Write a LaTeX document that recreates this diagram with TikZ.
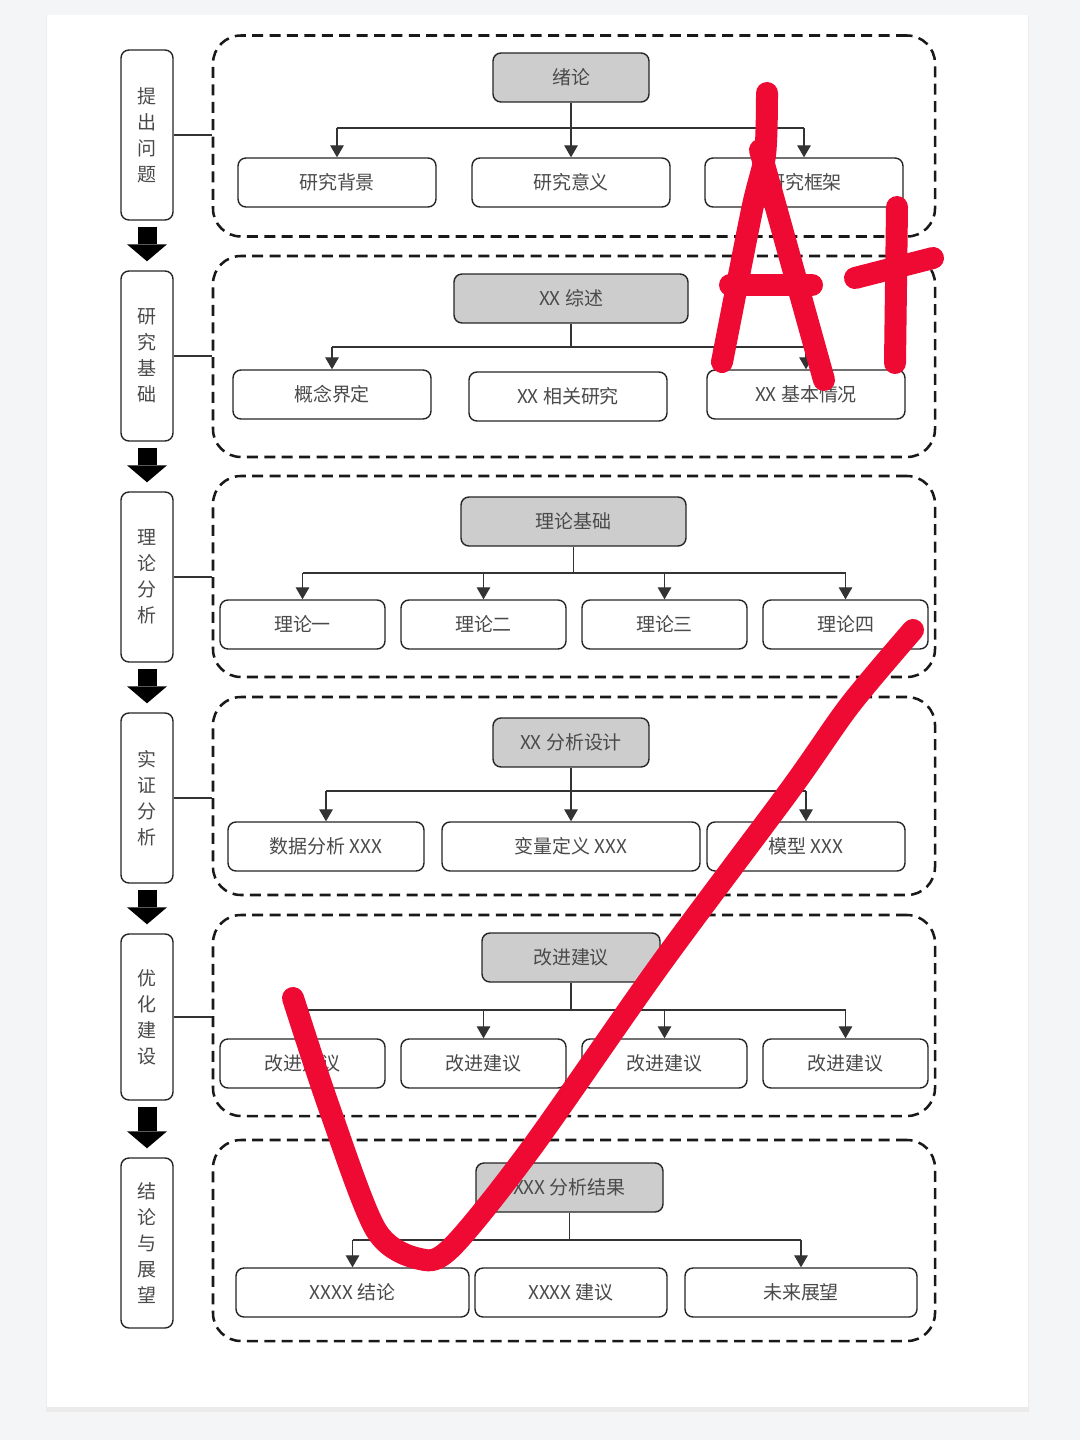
\documentclass[tikz,border=0pt]{standalone}
\usepackage{fontspec}
\usetikzlibrary{arrows.meta,calc}
\newfontfamily\cjk{Noto Sans CJK SC}
\definecolor{PaperBack}{HTML}{F4F5F7}
\definecolor{BoxGray}{HTML}{CDCDCD}
\definecolor{TextGray}{HTML}{4A4A4A}
\definecolor{PenRed}{HTML}{EE0A32}
\tikzset{>={Triangle[width=3.4mm,length=3mm]},
 every node/.style={font=\cjk\fontsize{13.5}{18.5}\selectfont,text=TextGray,inner sep=0pt},
 box/.style={draw=black!85,line width=1pt,rounded corners=2mm,minimum height=12.25mm,align=center},
 topbox/.style={box,fill=BoxGray},
 lab/.style={box,minimum width=13mm,minimum height=42.5mm},
 grp/.style={draw=black!90,line width=1.8pt,dash pattern=on 2.75mm off 1.6mm,
 rounded corners=7mm,minimum width=180.5mm,minimum height=50.25mm},
 link/.style={draw=black!80,line width=.8pt},
 bigarr/.style={line width=4.75mm,-{Triangle[width=10mm,length=4.25mm,line width=0pt]},
 shorten <=1.5mm,shorten >=2.25mm},
 redpen/.style={draw=PenRed,line width=5.5mm,line cap=round,line join=round}}
\begin{document}
\begin{tikzpicture}[x=.25mm,y=-.25mm]
\fill[PaperBack] (0,0) rectangle (1080,1440);
\useasboundingbox (0,0) rectangle (1080,1440);
% page
\fill[black!4] (43,19) rectangle (1032,1418);
\fill[black!8] (46,17) rectangle (1029,1412);
\fill[white] (47,15) rectangle (1028,1407);
% stage labels
\node[lab] (lab1) at (147,135) {提\\出\\问\\题};
\node[lab] (lab2) at (147,356) {研\\究\\基\\础};
\node[lab] (lab3) at (147,577) {理\\论\\分\\析};
\node[lab] (lab4) at (147,798) {实\\证\\分\\析};
\node[lab,minimum height=41.5mm] (lab5) at (147,1017) {优\\化\\建\\设};
\node[lab] (lab6) at (147,1243) {结\\论\\与\\展\\望};
\foreach \a/\b in {lab1/lab2,lab2/lab3,lab3/lab4,lab4/lab5,lab5/lab6}
 \draw[bigarr] (\a) -- (\b);
% groups
\node[grp] (grp1) at (574,136) {};
\node[grp] (grp2) at (574,356.5) {};
\node[grp] (grp3) at (574,576.5) {};
\node[grp,minimum height=49.5mm] (grp4) at (574,796) {};
\node[grp] (grp5) at (574,1015.5) {};
\node[grp] (grp6) at (574,1240.5) {};
\foreach \i in {1,...,5}
 \draw[link,line width=1.2pt] (lab\i) -- (lab\i.east-|grp\i.west);
% 1
\node[topbox,minimum width=39mm] (t1) at (571,77.5) {绪论};
\node[box,minimum width=49.5mm] (c11) at (337,182.5) {研究背景};
\node[box,minimum width=49.5mm] (c12) at (571,182.5) {研究意义};
\node[box,minimum width=49.5mm] (c13) at (804,182.5) {研究框架};
\coordinate (b1) at (0,128);
\draw[link] (t1) -- (t1|-b1);
\draw[link] (c11|-b1) -- (c13|-b1);
\foreach \c in {c11,c12,c13} \draw[link,->] (\c|-b1) -- (\c);
% 2
\node[topbox,minimum width=58.5mm] (t2) at (571,298.5) {XX 综述};
\node[box,minimum width=49.5mm] (c21) at (332,394.5) {概念界定};
\node[box,minimum width=49.5mm] (c22) at (568,396.5) {XX 相关研究};
\node[box,minimum width=49.5mm] (c23) at (806,394.5) {XX 基本情况};
\coordinate (b2) at (0,347);
\draw[link] (t2) -- (t2|-b2);
\draw[link] (c21|-b2) -- (c23|-b2);
\foreach \c in {c21,c23} \draw[link,->] (\c|-b2) -- (\c);
% 3
\node[topbox,minimum width=56.25mm] (t3) at (573.5,521.5) {理论基础};
\node[box,minimum width=41.25mm] (c31) at (302.5,624.5) {理论一};
\node[box,minimum width=41.25mm] (c32) at (483.5,624.5) {理论二};
\node[box,minimum width=41.25mm] (c33) at (664.5,624.5) {理论三};
\node[box,minimum width=41.25mm] (c34) at (845.5,624.5) {理论四};
\coordinate (b3) at (0,573);
\draw[link] (t3) -- (t3|-b3);
\draw[link] (c31|-b3) -- (c34|-b3);
\foreach \c in {c31,c32,c33,c34} \draw[link,->] (\c|-b3) -- (\c);
% 4
\node[topbox,minimum width=39mm] (t4) at (571,742.5) {XX 分析设计};
\node[box,minimum width=49mm] (c41) at (326,846.5) {数据分析 XXX};
\node[box,minimum width=64.5mm] (c42) at (571,846.5) {变量定义 XXX};
\node[box,minimum width=49.5mm] (c43) at (806,846.5) {模型 XXX};
\coordinate (b4) at (0,791);
\draw[link] (t4) -- (t4|-b4);
\draw[link] (c41|-b4) -- (c43|-b4);
\foreach \c in {c41,c42,c43} \draw[link,->] (\c|-b4) -- (\c);
% 5
\node[topbox,minimum width=44.5mm] (t5) at (571,957.5) {改进建议};
\node[box,minimum width=41.25mm] (c51) at (302.5,1063.5) {改进建议};
\node[box,minimum width=41.25mm] (c52) at (483.5,1063.5) {改进建议};
\node[box,minimum width=41.25mm] (c53) at (664.5,1063.5) {改进建议};
\node[box,minimum width=41.25mm] (c54) at (845.5,1063.5) {改进建议};
\coordinate (b5) at (0,1010);
\draw[link] (t5) -- (t5|-b5);
\draw[link] (c51|-b5) -- (c54|-b5);
\foreach \c in {c51,c52,c53,c54} \draw[link,->] (\c|-b5) -- (\c);
% 6
\node[topbox,minimum width=46.75mm] (t6) at (569.5,1187.5) {XXX 分析结果};
\node[box,minimum width=58.25mm] (c61) at (352.5,1292.5) {XXXX 结论};
\node[box,minimum width=48mm] (c62) at (571,1292.5) {XXXX 建议};
\node[box,minimum width=58mm] (c63) at (801,1292.5) {未来展望};
\coordinate (b6) at (0,1240);
\draw[link] (t6) -- (t6|-b6);
\draw[link] (c61|-b6) -- (c63|-b6);
\foreach \c in {c61,c63} \draw[link,->] (\c|-b6) -- (\c);
% red pen marks
\draw[redpen] plot[smooth] coordinates {(767,93) (765,155) (752,210) (722,362)};
\draw[redpen] (760,150) -- (824,380);
\draw[redpen] (730,285) -- (812,285);
\draw[redpen] (897,207) -- (895,363);
\draw[redpen] (855,278) -- (933,258);
\draw[redpen] plot[smooth,tension=.5] coordinates {(293,998) (330,1110) (376,1230)
 (420,1259) (452,1247) (530,1150) (660,965) (790,790) (850,705) (913,630)};
\end{tikzpicture}
\end{document}
